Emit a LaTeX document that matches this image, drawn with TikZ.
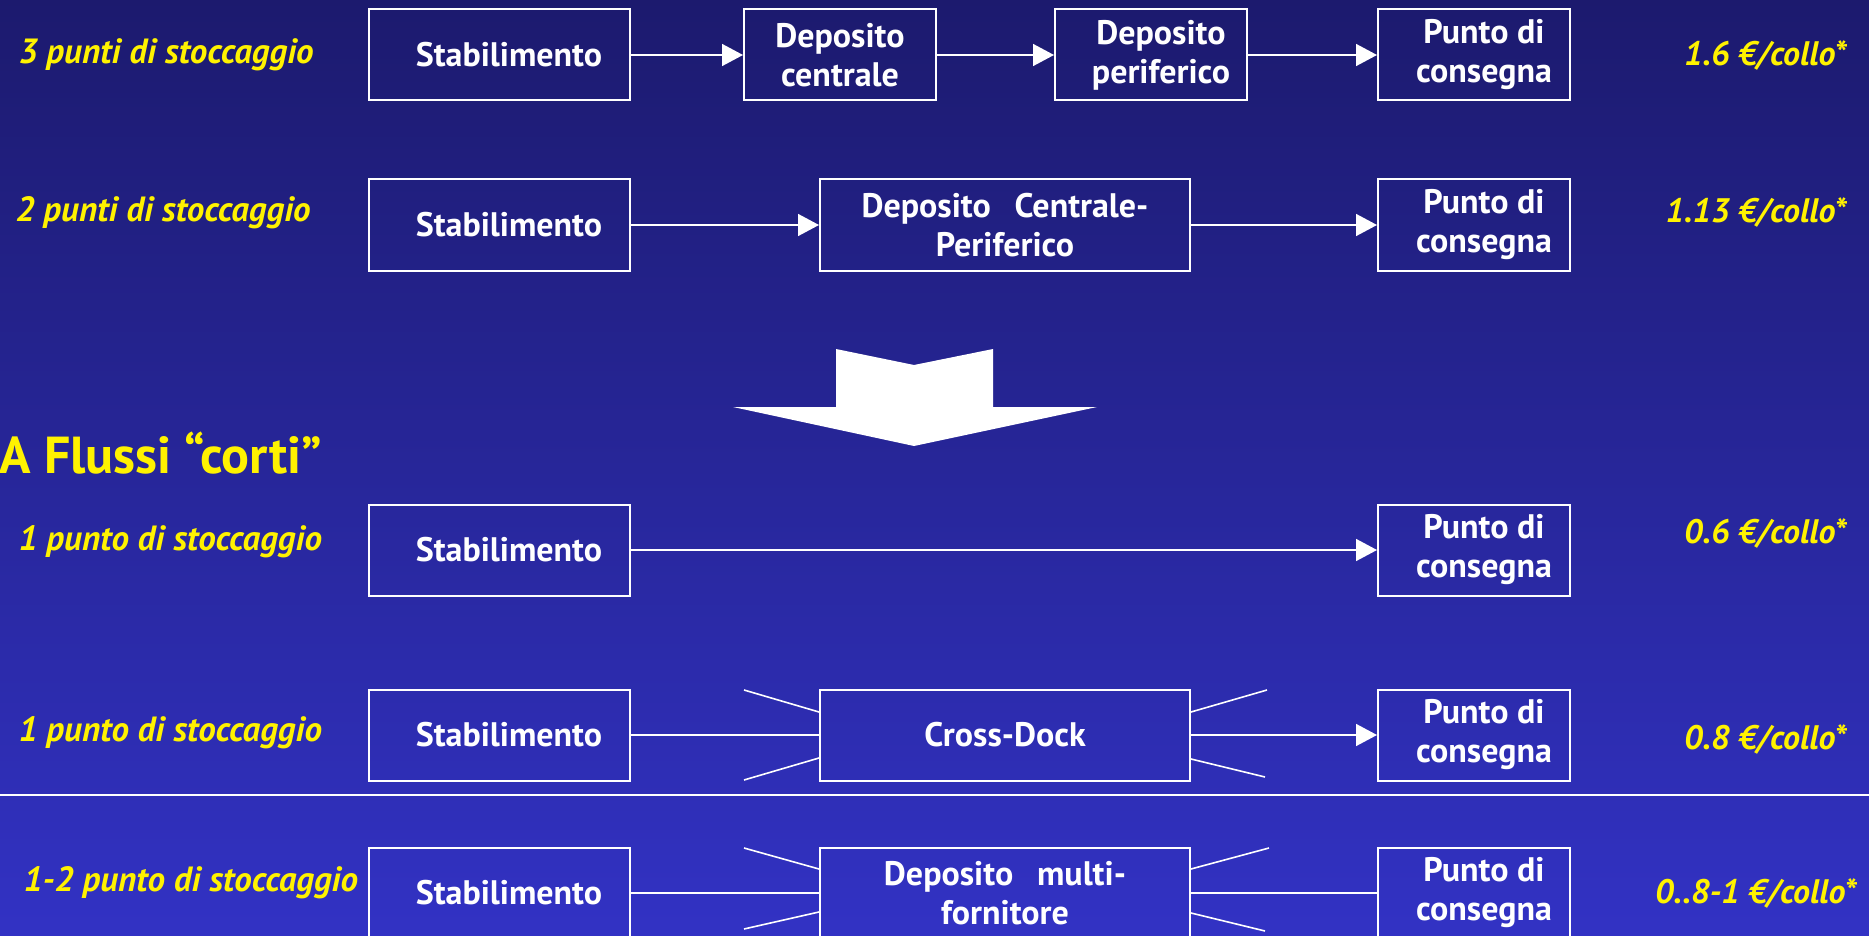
\documentclass[tikz,border=0pt]{standalone}
\usepackage{fontspec}
\setmainfont{PT Sans}
\usetikzlibrary{arrows.meta}
\definecolor{bgtop}{RGB}{28,26,110}
\definecolor{bgbot}{RGB}{50,50,196}
\newcommand{\rsh}{\hspace*{20pt}}
\tikzstyle{box}=[draw=white, line width=2pt, text=white, inner sep=0pt, align=center, minimum height=91pt, font=\bfseries\fontsize{34}{39}\selectfont]
\tikzstyle{lab}=[anchor=west, text=yellow, font=\bfseries\itshape\fontsize{35}{40}\selectfont]
\tikzstyle{cost}=[anchor=east, text=yellow, font=\bfseries\itshape\fontsize{34}{40}\selectfont]
\tikzstyle{flow}=[draw=white, line width=1.6pt, -{Triangle[length=21pt,width=22pt]}]
\tikzstyle{link}=[draw=white, line width=1.6pt]

\begin{document}
\begin{tikzpicture}[x=1pt, y=-1pt]

\shade[top color=bgtop, bottom color=bgbot] (0,0) rectangle (1869,936);
\useasboundingbox (0,0) rectangle (1869,936);

\node[lab] (l1) at (15,55) {3 punti di stoccaggio};
\node[box, minimum width=261pt] (s1) at (499,55) {\rsh Stabilimento};
\node[box, minimum width=192pt] (c1) at (840,55) {Deposito\\centrale};
\node[box, minimum width=192pt] (p1) at (1151,55) {\rsh Deposito\\\rsh periferico};
\node[box, minimum width=192pt] (d1) at (1474,55) {\rsh Punto di\\\rsh consegna};
\node[cost] (k1) at (1850,55) {1.6 €/collo*};

\node[lab] (l2) at (12,213) {2 punti di stoccaggio};
\node[box, minimum width=261pt] (s2) at (499,225) {\rsh Stabilimento};
\node[box, minimum width=370pt] (cp2) at (1005,225) {Deposito\hspace{0.7em}Centrale-\\Periferico};
\node[box, minimum width=192pt] (d2) at (1474,225) {\rsh Punto di\\\rsh consegna};
\node[cost] (k2) at (1850,212) {1.13 €/collo*};

\fill[white] (836,349) -- (914,365) -- (993,349) -- (993,407) -- (1097,407) -- (914,446) -- (733,407) -- (836,407) -- cycle;

\node[anchor=west, text=yellow, font=\bfseries\fontsize{52}{58}\selectfont] (t) at (-4,453) {A Flussi “corti”};

\node[lab] (l3) at (15,542) {1 punto di stoccaggio};
\node[box, minimum width=261pt] (s3) at (499,550) {\rsh Stabilimento};
\node[box, minimum width=192pt] (d3) at (1474,550) {\rsh Punto di\\\rsh consegna};
\node[cost] (k3) at (1850,533) {0.6 €/collo*};

\node[lab] (l4) at (15,733) {1 punto di stoccaggio};
\node[box, minimum width=261pt] (s4) at (499,735) {\rsh Stabilimento};
\node[box, minimum width=370pt] (x4) at (1005,735) {Cross-Dock};
\node[box, minimum width=192pt] (d4) at (1474,735) {\rsh Punto di\\\rsh consegna};
\node[cost] (k4) at (1850,739) {0.8 €/collo*};

\draw[white, line width=1.2pt] (0,795) -- (1869,795);

\node[lab] (l5) at (20,883) {1-2 punto di stoccaggio};
\node[box, minimum width=261pt] (s5) at (499,893) {\rsh Stabilimento};
\node[box, minimum width=370pt] (m5) at (1005,893) {Deposito\hspace{0.7em}multi-\\fornitore};
\node[box, minimum width=192pt] (d5) at (1474,893) {\rsh Punto di\\\rsh consegna};
\node[cost] (k5) at (1860,893) {0..8-1 €/collo*};

\draw[flow] (s1) -- (c1);
\draw[flow] (c1) -- (p1);
\draw[flow] (p1) -- (d1);
\draw[flow] (s2) -- (cp2);
\draw[flow] (cp2) -- (d2);
\draw[flow] (s3) -- (d3);
\draw[link] (s4) -- (x4);
\draw[flow] (x4) -- (d4);
\draw[link] (s5) -- (m5);
\draw[link] (m5) -- (d5);

\draw[link] ([yshift=23pt]x4.west) -- ++(-75,-22);
\draw[link] ([yshift=-23pt]x4.west) -- ++(-75,22);
\draw[link] ([yshift=23pt]x4.east) -- ++(76,-22);
\draw[link] ([yshift=-24pt]x4.east) -- ++(74,18);
\draw[link] ([yshift=24pt]m5.west) -- ++(-75,-21);
\draw[link] ([yshift=-19pt]m5.west) -- ++(-75,17);
\draw[link] ([yshift=24pt]m5.east) -- ++(78,-21);
\draw[link] ([yshift=-20pt]m5.east) -- ++(74,18);

\end{tikzpicture}
\end{document}
